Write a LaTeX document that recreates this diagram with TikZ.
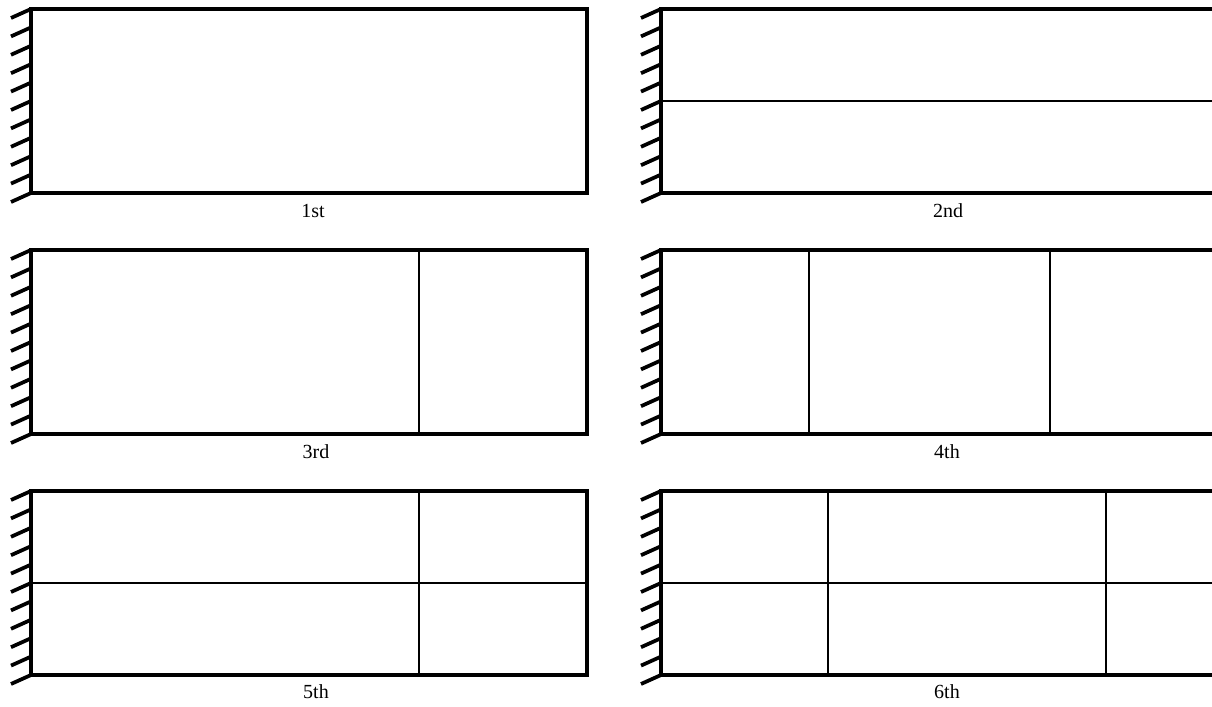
\documentclass[tikz,border=0pt]{standalone}
\usepackage{fontspec}
\setmainfont{Liberation Serif}
\usepackage{tikz}

\tikzset{
  frame/.style={line width=2.6pt},
  inner/.style={line width=1.2pt},
  hatch/.style={line width=2.8pt},
  lbl/.style={font=\fontsize{15}{18}\selectfont, anchor=base}
}

\begin{document}
\begin{tikzpicture}[x=0.75pt,y=-0.75pt]
\useasboundingbox (0,0) rectangle (1212,706);
\clip (0,0) rectangle (1212,706);

% six panels, each clamped on its left edge
\foreach \xo in {31,661}{
  \foreach \yo in {9,250,491}{
    \draw[frame] (\xo,\yo) rectangle ++(556,184);
    \foreach \i in {0,...,10}
      \draw[hatch] (\xo,\yo+\i*18.4) -- ++(-20,9);
  }
}

% inner lines
\draw[inner] (661,101) -- (1217,101);
\draw[inner] (419,250) -- (419,434);
\draw[inner] (809,250) -- (809,434);
\draw[inner] (1050,250) -- (1050,434);
\draw[inner] (419,491) -- (419,675);
\draw[inner] (31,583) -- (587,583);
\draw[inner] (828,491) -- (828,675);
\draw[inner] (1106,491) -- (1106,675);
\draw[inner] (661,583) -- (1217,583);

\node[lbl] (first) at (313,217) {1st};
\node[lbl] (second) at (948,217) {2nd};
\node[lbl] (third) at (316,458) {3rd};
\node[lbl] (fourth) at (947,458) {4th};
\node[lbl] (fifth) at (316,698) {5th};
\node[lbl] (sixth) at (947,698) {6th};
\end{tikzpicture}
\end{document}
